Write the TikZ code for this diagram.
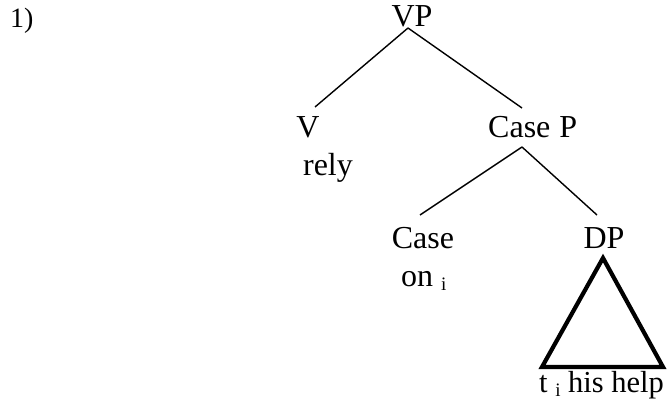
\documentclass[tikz,border=0pt]{standalone}
\usepackage{fontspec}
\setmainfont{Liberation Serif}
\newcommand{\treefont}{\fontsize{32}{38}\selectfont}
\newcommand{\subi}{{\fontsize{19}{19}\selectfont\raisebox{-4pt}{i}}}
\begin{document}
\begin{tikzpicture}[x=1pt,y=-1pt,
  lbl/.style={inner sep=0pt,anchor=base,font=\treefont},
  lblw/.style={inner sep=0pt,anchor=base west,font=\treefont},
  branch/.style={line width=1.4pt},
  roof/.style={line width=4.2pt,line join=miter}]
\useasboundingbox (0,0) rectangle (667,402);
% labels
\node[inner sep=0pt,anchor=base west,font=\fontsize{28}{34}\selectfont] (num) at (10,27) {1)};
\node[lbl] (vp) at (412,26) {VP};
\node[lbl] (v) at (308,137) {V};
\node[lbl] (rely) at (328,175) {rely};
\node[lblw] (casep) at (488,137) {Case\hspace{1pt} P};
\node[lbl] (case) at (423,248) {Case};
\node[lblw] (on) at (401,286) {on \subi};
\node[lbl] (dp) at (604,248) {DP};
\node[lblw,font=\fontsize{30.5}{36}\selectfont] (help) at (539,392) {t \subi{} his help};
% branch points
\coordinate (vp-b) at (408,28);
\coordinate (v-t) at (315,107);
\coordinate (casep-t) at (522,108);
\coordinate (casep-b) at (522,147);
\coordinate (case-t) at (420,215);
\coordinate (dp-t) at (597,215);
\coordinate (roof-a) at (603,258);
\coordinate (roof-l) at (542,367);
\coordinate (roof-r) at (663,367);
% branches
\draw[branch] (vp-b) -- (v-t);
\draw[branch] (vp-b) -- (casep-t);
\draw[branch] (casep-b) -- (case-t);
\draw[branch] (casep-b) -- (dp-t);
\draw[roof] (roof-a) -- (roof-l) -- (roof-r) -- cycle;
\end{tikzpicture}
\end{document}
